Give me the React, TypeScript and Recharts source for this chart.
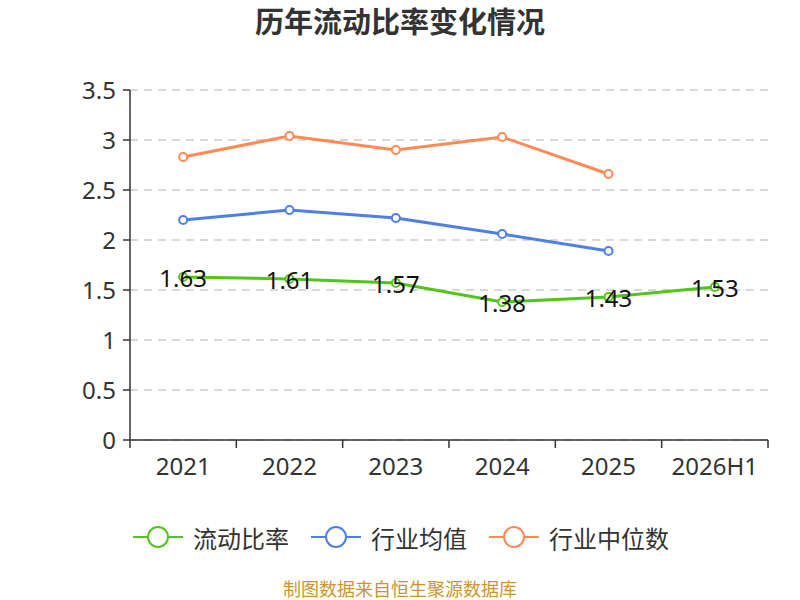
import React from "react";
import { LineChart, Line, XAxis, YAxis, CartesianGrid, LabelList } from "recharts";

const categories = ["2021", "2022", "2023", "2024", "2025", "2026H1"];
const currentRatio = [1.63, 1.61, 1.57, 1.38, 1.43, 1.53];
const industryMean = [2.2, 2.3, 2.22, 2.06, 1.89];
const industryMedian = [2.83, 3.04, 2.9, 3.03, 2.66];
const yTicks = [0, 0.5, 1, 1.5, 2, 2.5, 3, 3.5];

const GREEN = "#52c41a";
const BLUE = "#4e7fe6";
const ORANGE = "#ff8a55";
const FONT = "'Noto Sans', 'Noto Sans CJK SC', sans-serif";

// x sits in the middle of each band, so the axis ticks fall on band edges
const data = categories.map((c, i) => ({
  x: i + 0.5,
  name: c,
  ratio: currentRatio[i],
  mean: industryMean[i],
  median: industryMedian[i],
}));

const xTicks: number[] = [];
for (let i = 0; i <= categories.length * 2; i++) xTicks.push(i / 2);

const XTick = (props: any) => {
  const { x, y, payload } = props;
  const v = payload.value;
  if (Number.isInteger(v)) {
    return <line x1={x} y1={y} x2={x} y2={y + 8} stroke="#333" strokeWidth={1.5} />;
  }
  return (
    <text x={x} y={y + 25} textAnchor="middle" dominantBaseline="central" fontSize={24} fill="#333" fontFamily={FONT}>
      {categories[v - 0.5]}
    </text>
  );
};

const PointLabel = (props: any) => {
  const { x, y, value } = props;
  return (
    <text x={x} y={y} textAnchor="middle" dominantBaseline="central" fontSize={24} fill="#111" fontFamily={FONT}>
      {value}
    </text>
  );
};

const legendItems = [
  { name: "流动比率", color: GREEN },
  { name: "行业均值", color: BLUE },
  { name: "行业中位数", color: ORANGE },
];

const LegendIcon = ({ color }: { color: string }) => (
  <svg width={50} height={26} style={{ marginRight: 10 }}>
    <line x1={0} y1={13} x2={50} y2={13} stroke={color} strokeWidth={2} />
    <circle cx={25} cy={13} r={10} fill="#fff" stroke={color} strokeWidth={2} />
  </svg>
);

export default function App() {
  const dotStyle = (color: string) => ({ r: 4, fill: "#fff", stroke: color, strokeWidth: 2 });
  return (
    <div style={{ position: "absolute", left: 0, top: 0, width: 800, height: 600, background: "#fff", fontFamily: FONT }}>
      <div style={{ position: "absolute", top: 2, width: 800, textAlign: "center", fontSize: 29, lineHeight: "40px", fontWeight: "bold", color: "#333" }}>
        历年流动比率变化情况
      </div>
      <LineChart width={800} height={600} data={data} margin={{ top: 90, right: 32, bottom: 120, left: 0 }}>
        <CartesianGrid horizontal vertical={false} stroke="#ccc" strokeDasharray="8 6" strokeWidth={1.5} />
        <XAxis
          type="number"
          dataKey="x"
          domain={[0, categories.length]}
          ticks={xTicks}
          interval={0}
          tickLine={false}
          tickSize={0}
          tickMargin={0}
          tick={<XTick />}
          axisLine={{ stroke: "#333", strokeWidth: 1.5 }}
          height={40}
        />
        <YAxis
          domain={[0, 3.5]}
          ticks={yTicks}
          width={130}
          tickLine={{ stroke: "#333", strokeWidth: 1.5 }}
          tickSize={7}
          axisLine={{ stroke: "#333", strokeWidth: 1.5 }}
          tick={{ fontSize: 24, fill: "#333", fontFamily: FONT }}
          tickMargin={7}
        />
        <Line dataKey="median" stroke={ORANGE} strokeWidth={3} dot={dotStyle(ORANGE)} isAnimationActive={false} />
        <Line dataKey="mean" stroke={BLUE} strokeWidth={3} dot={dotStyle(BLUE)} isAnimationActive={false} />
        <Line dataKey="ratio" stroke={GREEN} strokeWidth={3} dot={dotStyle(GREEN)} isAnimationActive={false}>
          <LabelList dataKey="ratio" content={<PointLabel />} />
        </Line>
      </LineChart>
      <div style={{ position: "absolute", top: 522, left: 133, height: 30, display: "flex", alignItems: "center", fontSize: 24, color: "#333" }}>
        {legendItems.map((it) => (
          <div key={it.name} style={{ display: "flex", alignItems: "center", marginRight: 22 }}>
            <LegendIcon color={it.color} />
            <span>{it.name}</span>
          </div>
        ))}
      </div>
      <div style={{ position: "absolute", top: 577, width: 800, textAlign: "center", fontSize: 18, lineHeight: "24px", color: "#c9962e" }}>
        制图数据来自恒生聚源数据库
      </div>
    </div>
  );
}
